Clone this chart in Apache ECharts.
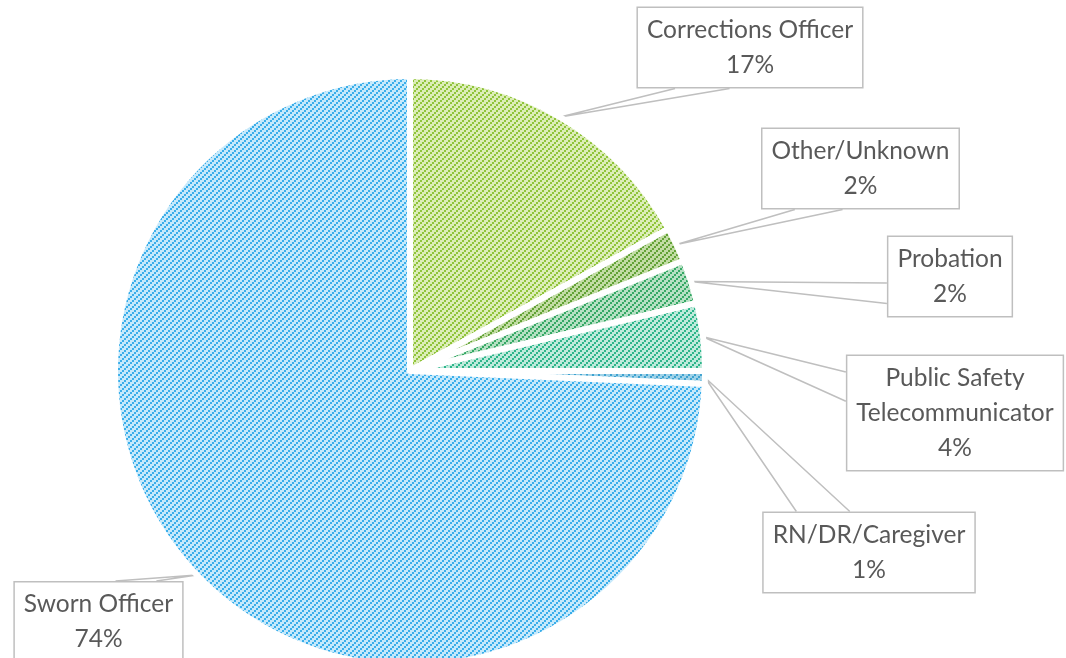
<!DOCTYPE html>
<html>
<head>
<meta charset="utf-8">
<script src="https://cdn.jsdelivr.net/npm/echarts@6/dist/echarts.min.js"></script>
<style>html,body{margin:0;background:#fff}#chart{width:1066px;height:658px}</style>
</head>
<body>
<div id="chart"></div>
<script>
var categories = ['Corrections Officer', 'Other/Unknown', 'Probation', 'Public Safety Telecommunicator', 'RN/DR/Caregiver', 'Sworn Officer'];
var shares = [17.0, 1.9, 2.4, 3.7, 0.7, 74.3];

// hatch colours: light ground + darker stripe
var groundColors = ['#dcedb8', '#c2dca4', '#b6e0c3', '#bfeadb', '#9fd2e8', '#c6e9fb'];
var stripeColors = ['#8fc43a', '#62a236', '#35a865', '#2cb58a', '#3ea2d0', '#3aaeea'];

// callout boxes: centre x, centre y, side the pointer leaves from, start / end along that side
var boxes = [
  [750, 47.5, 'bottom', 0.17, 0.41],
  [860.5, 168.5, 'bottom', 0.17, 0.41],
  [950, 276.5, 'left', 0.58, 0.83],
  [955, 413, 'left', 0.15, 0.40],
  [869, 552.5, 'top', 0.16, 0.41],
  [98.5, 622, 'top', 0.60, 0.84]
];

function hatch(bg, fg) {
  var c = document.createElement('canvas');
  c.width = 6; c.height = 6;
  var g = c.getContext('2d');
  g.fillStyle = bg;
  g.fillRect(0, 0, 6, 6);
  g.fillStyle = fg;
  for (var y = 0; y < 6; y += 2) {
    for (var x = 0; x < 6; x += 2) {
      if ((x / 2 + y / 2) % 3 === 0) g.fillRect(x, y, 2, 2);
    }
  }
  return { image: c, repeat: 'repeat' };
}

function wrapName(name) {
  if (name.length <= 20) return name;
  var i = name.lastIndexOf(' ');
  return name.slice(0, i) + '\n' + name.slice(i + 1);
}

var pieData = [];
for (var i = 0; i < categories.length; i++) {
  pieData.push({
    name: categories[i],
    value: shares[i],
    itemStyle: { color: hatch(groundColors[i], stripeColors[i]) }
  });
}

var myChart = echarts.init(document.getElementById('chart'));
var option = {
  animation: false,
  series: [
    {
      type: 'pie',
      center: [410, 371],
      radius: 295,
      startAngle: 90,
      clockwise: true,
      avoidLabelOverlap: false,
      silent: true,
      itemStyle: {
        borderColor: '#ffffff',
        borderWidth: 6
      },
      label: {
        show: true,
        position: 'outside',
        formatter: function (p) {
          return wrapName(p.name) + '\n' + Math.round(p.percent) + '%';
        },
        fontFamily: 'Lato',
        fontSize: 24.5,
        lineHeight: 35,
        color: '#595959',
        align: 'center',
        backgroundColor: '#ffffff',
        borderColor: '#bfbfbf',
        borderWidth: 1.5,
        padding: [5, 9, 4, 9]
      },
      labelLine: {
        show: true,
        lineStyle: { color: '#bfbfbf', width: 1.5 }
      },
      labelLayout: function (p) {
        var b = boxes[p.dataIndex];
        var w = p.labelRect.width, h = p.labelRect.height;
        var x0 = b[0] - w / 2, y0 = b[1] - h / 2;
        var tip = p.labelLinePoints[0];
        var a, c;
        if (b[2] === 'bottom') {
          a = [x0 + w * b[3], y0 + h]; c = [x0 + w * b[4], y0 + h];
        } else if (b[2] === 'top') {
          a = [x0 + w * b[3], y0]; c = [x0 + w * b[4], y0];
        } else {
          a = [x0, y0 + h * b[3]]; c = [x0, y0 + h * b[4]];
        }
        return {
          x: b[0], y: b[1],
          align: 'center', verticalAlign: 'middle',
          labelLinePoints: [a, tip, c]
        };
      },
      data: pieData
    }
  ]
};
myChart.setOption(option);
</script>
</body>
</html>
